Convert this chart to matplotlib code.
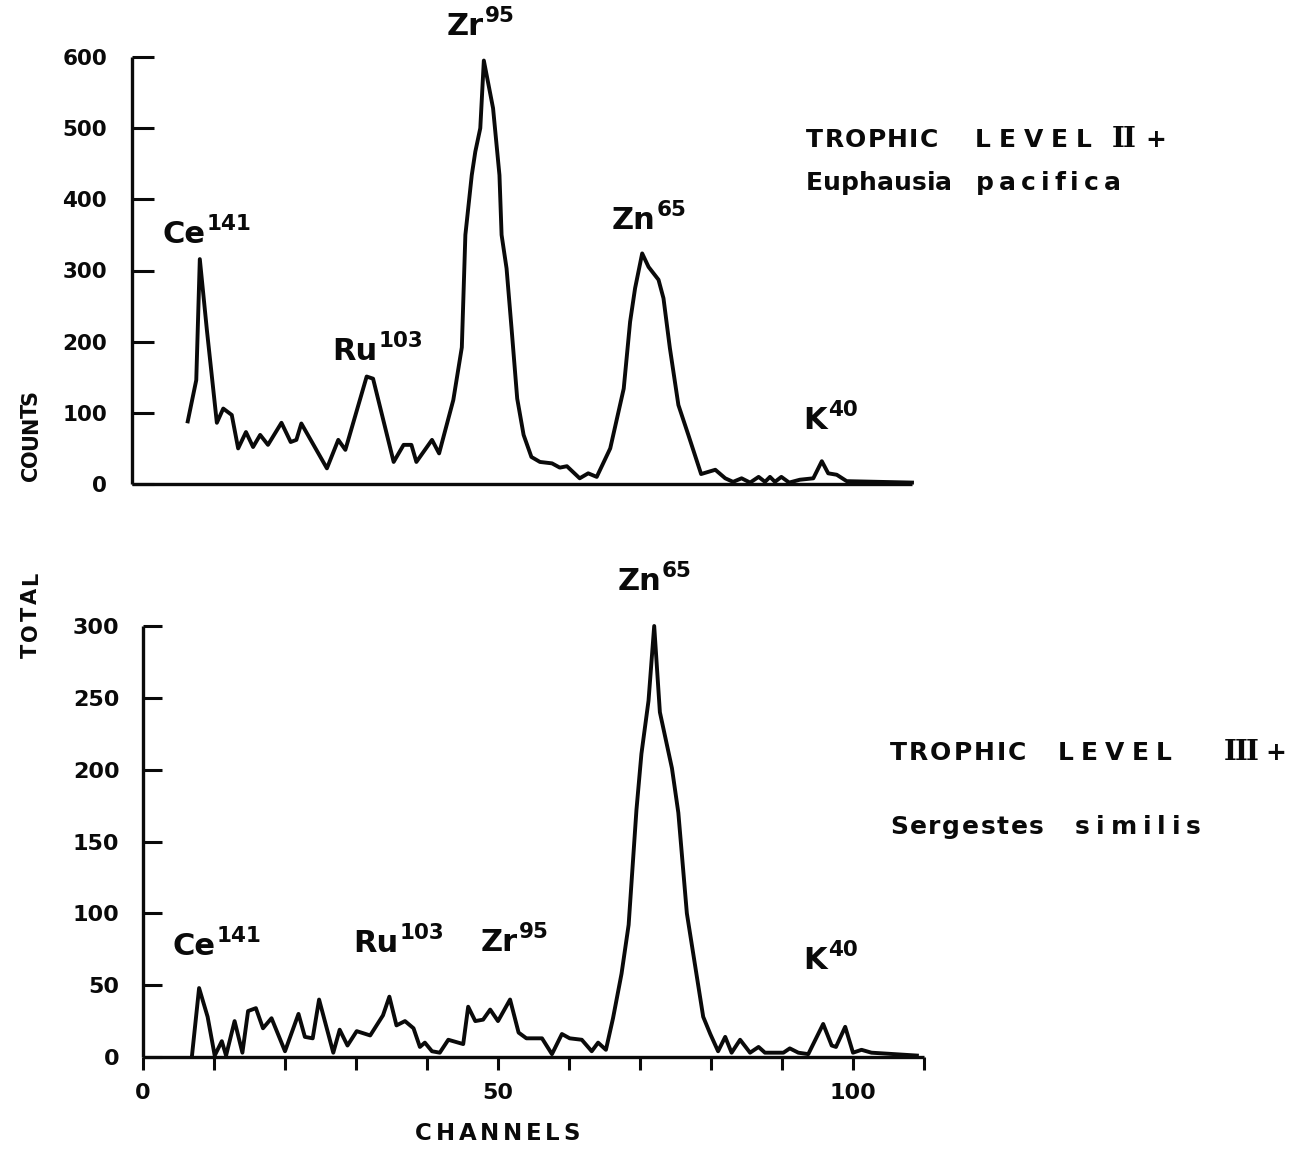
import matplotlib
matplotlib.use("Agg")
import matplotlib.pyplot as plt
from matplotlib.font_manager import FontProperties, findfont, get_font
from matplotlib.transforms import IdentityTransform

# ---------------- data ----------------
# Trophic level II+ : Euphausia pacifica
ch_top = [6.3, 7.5, 8.0, 9.0, 10.4, 11.3, 12.5, 13.4, 14.5, 15.5, 16.5, 17.6,
          19.5, 20.8, 21.6, 22.3, 25.9, 27.5, 28.5, 31.5, 32.4, 35.3, 36.7,
          37.8, 38.5, 40.7, 41.7, 43.7, 44.9, 45.4, 46.3, 46.8, 47.5, 48.0,
          49.3, 50.2, 50.5, 51.2, 51.9, 52.7, 53.6, 54.7, 55.9, 57.6, 58.7,
          59.7, 61.5, 62.7, 63.9, 65.8, 67.7, 68.6, 69.3, 70.3, 71.2, 72.6,
          73.3, 74.2, 75.4, 76.8, 78.6, 80.6, 82.0, 83.1, 84.3, 85.5, 86.7,
          87.6, 88.3, 89.0, 89.9, 91.0, 92.5, 94.4, 95.6, 96.5, 97.7, 99.1,
          108.3]
counts_top = [88, 146, 316, 216, 86, 106, 97, 50, 73, 52, 69, 55,
              86, 59, 62, 85, 22, 62, 48, 151, 148, 31, 55,
              55, 31, 62, 43, 118, 192, 350, 434, 467, 500, 595,
              528, 434, 350, 303, 219, 120, 69, 38, 31, 29, 23,
              25, 8, 15, 10, 50, 134, 228, 275, 324, 305, 287,
              261, 191, 111, 69, 14, 20, 8, 3, 8, 2, 10,
              3, 10, 3, 10, 2, 6, 8, 32, 15, 13, 4,
              2]

# Trophic level III+ : Sergestes similis
ch_bot = [6.9, 7.9, 9.1, 10.1, 11.1, 11.7, 12.9, 14.0, 14.8, 15.9, 16.9, 18.1,
          20.0, 21.9, 22.8, 23.9, 24.8, 26.8, 27.7, 28.8, 30.1, 32.0, 33.8,
          34.7, 35.7, 36.9, 38.1, 39.0, 39.7, 40.7, 41.8, 43.0, 45.1, 45.8,
          46.8, 47.9, 48.9, 50.0, 51.7, 52.9, 54.0, 56.2, 57.6, 59.0, 60.1,
          61.8, 63.2, 64.1, 65.2, 66.2, 67.4, 68.4, 69.5, 70.2, 71.2, 72.0,
          72.8, 74.5, 75.4, 76.6, 78.9, 79.9, 81.0, 82.0, 82.9, 84.1, 85.5,
          86.7, 87.6, 90.2, 91.1, 92.3, 93.7, 95.8, 97.0, 97.6, 98.9, 100.0,
          101.2, 102.6, 109.0]
counts_bot = [1, 48, 28, 1, 11, 1, 25, 3, 32, 34, 20, 27,
              4, 30, 14, 13, 40, 3, 19, 8, 18, 15, 29,
              42, 22, 25, 20, 7, 10, 4, 3, 12, 9, 35,
              25, 26, 33, 25, 40, 17, 13, 13, 2, 16, 13,
              12, 4, 10, 5, 27, 58, 92, 172, 211, 248, 300,
              240, 201, 170, 100, 28, 16, 4, 14, 3, 12, 3,
              7, 3, 3, 6, 3, 2, 23, 8, 7, 21, 3,
              5, 3, 1]

yticks_top = [0, 100, 200, 300, 400, 500, 600]
yticks_bot = [0, 50, 100, 150, 200, 250, 300]
xticks_bot = [0, 10, 20, 30, 40, 50, 60, 70, 80, 90, 100, 110]
xticklabels_bot = ["0", "", "", "", "", "50", "", "", "", "", "100", ""]

# isotope labels: (channel, counts, symbol, mass number)
peaks_top = [(2.8, 339, "Ce", "141"), (26.7, 174, "Ru", "103"),
             (42.8, 631, "Zr", "95"), (66.0, 358, "Zn", "65"),
             (93.0, 77, "K", "40")]
peaks_bot = [(4.1, 71, "Ce", "141"), (29.6, 73, "Ru", "103"),
             (47.6, 74, "Zr", "95"), (66.8, 325, "Zn", "65"),
             (93.0, 61, "K", "40")]

# ---------------- figure ----------------
W, H, DPI = 1304, 1151, 100
plt.rcParams["font.family"] = ["DejaVu Sans"]
plt.rcParams["font.weight"] = "bold"
fig = plt.figure(figsize=(W / DPI, H / DPI), dpi=DPI)
fig.patch.set_facecolor("white")

INK = "#0a0a0a"


def box(left, top, right, bottom):
    return [left / W, 1 - bottom / H, (right - left) / W, (bottom - top) / H]


ax1 = fig.add_axes(box(132, 57, 912, 484))
ax2 = fig.add_axes(box(143, 626, 924, 1057))

for ax in (ax1, ax2):
    for s in ("top", "right"):
        ax.spines[s].set_visible(False)
    for s in ("left", "bottom"):
        ax.spines[s].set_linewidth(2.4)
        ax.spines[s].set_color(INK)
        ax.spines[s].set_capstyle("butt")
    ax.set_facecolor("none")

ax1.plot(ch_top, counts_top, color=INK, lw=2.8, solid_joinstyle="round",
         clip_on=False)
ax1.set_xlim(-1.55, 108.3)
ax1.set_ylim(0, 600)
ax1.set_xticks([])
ax1.set_yticks(yticks_top)
ax1.tick_params(axis="y", direction="in", length=16, width=2.2, pad=18,
                labelsize=15.5, colors=INK)

ax2.plot(ch_bot, counts_bot, color=INK, lw=2.8, solid_joinstyle="round",
         clip_on=False)
ax2.set_xlim(0, 110)
ax2.set_ylim(0, 300)
ax2.set_yticks(yticks_bot)
ax2.set_xticks(xticks_bot)
ax2.set_xticklabels(xticklabels_bot)
ax2.tick_params(axis="y", direction="in", length=14, width=2.2, pad=17,
                labelsize=16, colors=INK)
ax2.tick_params(axis="x", direction="out", length=9, width=2.2, pad=10,
                labelsize=16, colors=INK)

for ax in (ax1, ax2):
    for lbl in ax.get_xticklabels() + ax.get_yticklabels():
        lbl.set_fontweight("bold")


# ---------------- lettering ----------------
def advances(text, prop):
    font = get_font(findfont(prop))
    font.set_size(prop.get_size_in_points(), DPI)
    return [font.load_char(ord(c)).linearHoriAdvance / 65536 for c in text]


def spread_word(text, start, end, base, size, family="DejaVu Sans",
                vertical=False, gap=None, max_gap=None):
    """Letter a word between two pixel positions.
    Horizontal: start/end are x from the left, base is the baseline y from top.
    Vertical (reading upwards): start/end are y from top, base is baseline x."""
    prop = FontProperties(family=family, weight="bold", size=size)
    adv = advances(text, prop)
    if gap is None:
        gap = (abs(end - start) - sum(adv)) / max(len(text) - 1, 1)
    if max_gap is not None:
        gap = min(gap, max_gap)
    pos = 0.0
    for c, a in zip(text, adv):
        if vertical:
            fig.text(base, H - (start - pos), c, fontproperties=prop,
                     rotation=90, rotation_mode="anchor", ha="left",
                     va="baseline", color=INK, transform=IdentityTransform())
        else:
            fig.text(start + pos, H - base, c, fontproperties=prop,
                     ha="left", va="baseline", color=INK,
                     transform=IdentityTransform())
        pos += a + gap


def isotope(ax, ch, val, sym, mass):
    x, y = ax.transData.transform((ch, val))
    p_base = FontProperties(family="DejaVu Sans", weight="bold", size=22)
    p_sup = FontProperties(family="DejaVu Sans", weight="bold", size=15.5)
    fig.text(x, y, sym, fontproperties=p_base, ha="left", va="baseline",
             color=INK, transform=IdentityTransform())
    w = sum(advances(sym, p_base))
    fig.text(x + w + 1, y + 13, mass, fontproperties=p_sup, ha="left",
             va="baseline", color=INK, transform=IdentityTransform())


for ch, val, sym, mass in peaks_top:
    isotope(ax1, ch, val, sym, mass)
for ch, val, sym, mass in peaks_bot:
    isotope(ax2, ch, val, sym, mass)

# panel captions
spread_word("TROPHIC", 806, 938, 147, 18)
spread_word("LEVEL", 975, 1092, 147, 18)
spread_word("II", 1112, 0, 147, 20, family="DejaVu Serif", gap=-2)
spread_word("+", 1145, 1165, 147, 18)
spread_word("Euphausia", 806, 952, 190, 18, max_gap=3)
spread_word("pacifica", 976, 1136, 190, 18, max_gap=5)

spread_word("TROPHIC", 890, 1026, 760, 18)
spread_word("LEVEL", 1058, 1172, 760, 18)
spread_word("III", 1224, 0, 760, 20, family="DejaVu Serif", gap=-2)
spread_word("+", 1265, 1290, 760, 18)
spread_word("Sergestes", 890, 1044, 834, 18, max_gap=4)
spread_word("similis", 1075, 1208, 834, 18, max_gap=6)

# axis titles
spread_word("TOTAL", 658, 572, 37, 15, vertical=True)
spread_word("COUNTS", 481, 390, 37, 15, vertical=True)
spread_word("CHANNELS", 415, 580, 1140, 16.5)

fig.savefig("out.png", dpi=DPI, facecolor="white")
